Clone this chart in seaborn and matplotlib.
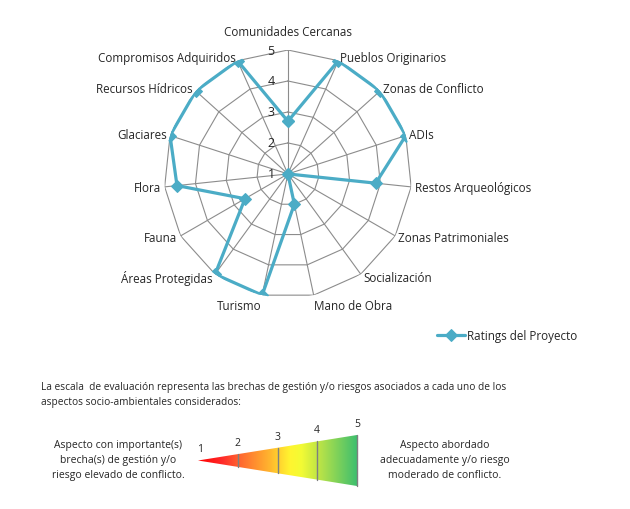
import numpy as np
import pandas as pd
import matplotlib
matplotlib.use("Agg")
import matplotlib.pyplot as plt
import seaborn as sns
from matplotlib.colors import LinearSegmentedColormap
from matplotlib.patches import Polygon

# data
aspectos = ["Comunidades Cercanas", "Pueblos Originarios", "Zonas de Conflicto", "ADIs",
            "Restos Arqueológicos", "Zonas Patrimoniales", "Socialización", "Mano de Obra",
            "Turismo", "Áreas Protegidas", "Fauna", "Flora", "Glaciares",
            "Recursos Hídricos", "Compromisos Adquiridos"]
ratings = [2.7, 5, 5, 5, 3.85, 1, 1, 2, 5, 5, 2.6, 4.6, 5, 5, 5]
niveles = [1, 2, 3, 4, 5]
serie = "Ratings del Proyecto"

texto_escala = ("La escala  de evaluación representa las brechas de gestión y/o riesgos asociados a cada uno de los\n"
                "aspectos socio-ambientales considerados:")
texto_izq = "Aspecto con importante(s)\nbrecha(s) de gestión y/o\nriesgo elevado de conflicto."
texto_der = "Aspecto abordado\nadecuadamente y/o riesgo\nmoderado de conflicto."

sns.set_style("white")
plt.rcParams["font.family"] = ["Open Sans", "DejaVu Sans"]
plt.rcParams["font.size"] = 7.5

color_linea = "#4BACC6"
gris = "#8C8C8C"

fig = plt.figure(figsize=(6.3, 5.1), dpi=100)

# ---------------- radar ----------------
ax = fig.add_axes([0.260, 0.414, 0.394, 0.486], projection="polar")
ax.set_theta_zero_location("N")
ax.set_theta_direction(-1)
ax.set_ylim(1, 5)
ax.grid(False)
ax.set_xticks([])
ax.set_yticks([])
ax.spines["polar"].set_visible(False)

n = len(aspectos)
ang = np.arange(n) * 2 * np.pi / n
ang_c = np.append(ang, ang[0])

# polygon rings and spokes
for r in niveles[1:]:
    ax.plot(ang_c, [r] * (n + 1), color=gris, lw=0.8, zorder=1)
for a in ang:
    ax.plot([a, a], [1, 5], color=gris, lw=0.8, zorder=1)

for r in niveles:
    ax.text(0, r, str(r) + "    ", ha="right", va="center", fontsize=9)

df = pd.DataFrame({"theta": ang_c, "rating": ratings + [ratings[0]]})
sns.lineplot(data=df, x="theta", y="rating", sort=False, estimator=None, ax=ax,
             color=color_linea, lw=2.3, marker="D", markersize=6.5,
             markeredgecolor=color_linea, zorder=3, label=serie, legend=False)
ax.set_xlabel("")
ax.set_ylabel("")

for a, lab in zip(ang, aspectos):
    s = np.sin(a)
    if abs(s) < 0.05:
        ha = "center"
    elif s > 0:
        ha = "left"
    else:
        ha = "right"
    c = np.cos(a)
    va = "bottom" if c > 0.95 else ("top" if c < -0.95 else "center")
    rr = 5.38 if c > 0.95 else 5.12
    ax.text(a, rr, lab, ha=ha, va=va, fontsize=8.4)

handles, labels = ax.get_legend_handles_labels()
fig.legend(handles, labels, loc="center left", bbox_to_anchor=(426 / 630, 1 - 337 / 510),
           frameon=False, handlelength=2.4, handletextpad=0.25, fontsize=8.4)

# ---------------- escala ----------------
ov = fig.add_axes([0, 0, 1, 1])
ov.set_xlim(0, 630)
ov.set_ylim(510, 0)
ov.axis("off")

ov.text(41, 395, texto_escala, ha="left", va="center", fontsize=7.25, linespacing=1.6)
ov.text(118, 461, texto_izq, ha="center", va="center", fontsize=7.5, linespacing=1.5)
ov.text(445, 461, texto_der, ha="center", va="center", fontsize=7.5, linespacing=1.5)

x0, x1, yc, h = 198, 357, 461.5, 25.5
cmap = LinearSegmentedColormap.from_list("escala", [
    (0.0, "#FF0000"), (0.15, "#FF2A2A"), (0.27, "#FF6A30"), (0.45, "#FFB52E"),
    (0.58, "#FFF530"), (0.65, "#F3FB34"), (0.76, "#BEE446"), (1.0, "#3EBF6E")])
grad = np.linspace(0, 1, 256).reshape(1, -1)
im = ov.imshow(grad, cmap=cmap, aspect="auto", extent=[x0, x1, yc + h, yc - h], zorder=2)
cuna = Polygon([(x0, yc), (x1, yc - h), (x1, yc + h)], closed=True,
               facecolor="none", edgecolor="none", transform=ov.transData)
ov.add_patch(cuna)
im.set_clip_path(cuna)
ov.set_xlim(0, 630)
ov.set_ylim(510, 0)

for v in niveles:
    x = x0 + (v - 1) / 4 * (x1 - x0) + (2 if v == 1 else 0)
    hh = (x - x0) / (x1 - x0) * h
    if v > 1:
        ov.plot([x, x], [yc - hh, yc + hh], color="#7F7F7F", lw=1.0, zorder=3)
    ov.text(x, yc - hh - 6, str(v), ha="center", va="bottom", fontsize=7.5)

fig.savefig("out.png", dpi=100)
